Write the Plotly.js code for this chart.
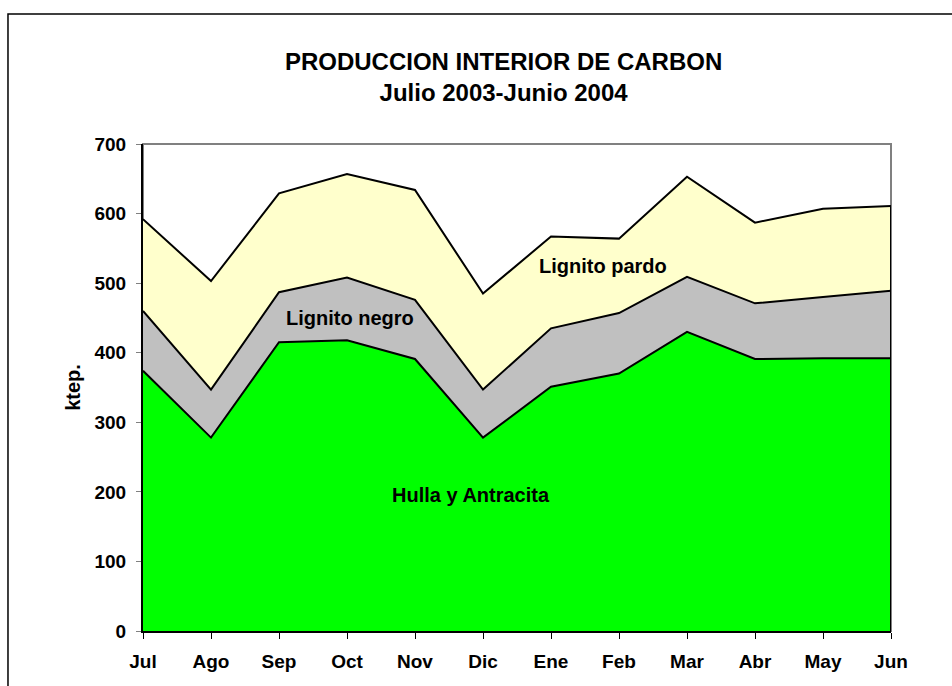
<!DOCTYPE html>
<html>
<head>
<meta charset="utf-8">
<script src="https://cdn.plot.ly/plotly-3.0.1.min.js"></script>
<style>
html,body{margin:0;padding:0;background:#fff;}
#chart{width:952px;height:686px;}
</style>
</head>
<body>
<div id="chart"></div>
<script>
var months = ["Jul","Ago","Sep","Oct","Nov","Dic","Ene","Feb","Mar","Abr","May","Jun"];
var hulla  = [374, 278, 415, 418, 391, 278, 351, 370, 430, 391, 392, 392];
var negro  = [86, 69, 72, 90, 85, 69, 84, 87, 79, 80, 88, 97];
var pardo  = [132, 156, 142, 149, 158, 138, 132, 107, 144, 116, 127, 122];
var yTicks = [0,100,200,300,400,500,600,700];

var FONT = "Liberation Sans, Arial, sans-serif";
var idx = months.map(function(m,i){return i;});
var last = months.length - 1;
var totalLast = hulla[last] + negro[last] + pardo[last];

var traces = [
  {x: idx, y: hulla, name: "Hulla y Antracita", type: "scatter", mode: "lines", stackgroup: "one",
   fillcolor: "#00FF00", line: {color: "#000", width: 2}, hoverinfo: "skip"},
  {x: idx, y: negro, name: "Lignito negro", type: "scatter", mode: "lines", stackgroup: "one",
   fillcolor: "#C0C0C0", line: {color: "#000", width: 2}, hoverinfo: "skip"},
  {x: idx, y: pardo, name: "Lignito pardo", type: "scatter", mode: "lines", stackgroup: "one",
   fillcolor: "#FFFFCC", line: {color: "#000", width: 2}, hoverinfo: "skip"},
  {x: [last, last], y: [0, totalLast], type: "scatter", mode: "lines",
   line: {color: "#000", width: 2}, hoverinfo: "skip", showlegend: false}
];

var layout = {
  width: 952, height: 686,
  margin: {l: 143, r: 61, t: 144, b: 55},
  paper_bgcolor: "#fff", plot_bgcolor: "#fff",
  showlegend: false,
  font: {family: FONT, color: "#000"},
  title: {text: "<b>PRODUCCION INTERIOR DE CARBON<br>Julio 2003-Junio 2004</b>",
          font: {family: FONT, size: 24, color: "#000"},
          x: 0.529, xref: "container", xanchor: "center", y: 0.898, yref: "container", yanchor: "middle"},
  xaxis: {range: [0, last], tickvals: idx, ticktext: months, showgrid: false, zeroline: false,
          showline: true, linecolor: "#000", linewidth: 2, ticks: "outside", ticklen: 6,
          tickcolor: "#000", tickwidth: 1, ticklabelstandoff: 6,
          tickfont: {family: FONT, size: 19, color: "#000", weight: "bold"},
          fixedrange: true},
  yaxis: {range: [0, 700], tickvals: yTicks, showgrid: false, zeroline: false,
          showline: true, linecolor: "#000", linewidth: 2, ticks: "outside", ticklen: 5,
          tickcolor: "#808080", tickwidth: 1, ticklabelstandoff: 6,
          tickfont: {family: FONT, size: 19, color: "#000", weight: "bold"},
          title: {text: "<b>ktep.</b>", font: {family: FONT, size: 20, color: "#000"}, standoff: 8},
          fixedrange: true},
  shapes: [
    {type: "rect", xref: "paper", yref: "paper", x0: 0, x1: 1, y0: 0, y1: 1,
     line: {color: "#808080", width: 2}, layer: "below"},
    {type: "rect", xref: "paper", yref: "paper", x0: -0.1805, x1: 1.12, y0: -0.13, y1: 1.267,
     line: {color: "#000", width: 1.5}, fillcolor: "rgba(0,0,0,0)", layer: "above"}
  ],
  annotations: [
    {x: 4.82, y: 195, xref: "x", yref: "y", text: "<b>Hulla y Antracita</b>", showarrow: false,
     font: {family: FONT, size: 20, color: "#000"}},
    {x: 3.05, y: 450, xref: "x", yref: "y", text: "<b>Lignito negro</b>", showarrow: false,
     font: {family: FONT, size: 20, color: "#000"}},
    {x: 6.77, y: 525, xref: "x", yref: "y", text: "<b>Lignito pardo</b>", showarrow: false,
     font: {family: FONT, size: 20, color: "#000"}}
  ]
};

Plotly.newPlot("chart", traces, layout, {displayModeBar: false, staticPlot: true});
</script>
</body>
</html>
